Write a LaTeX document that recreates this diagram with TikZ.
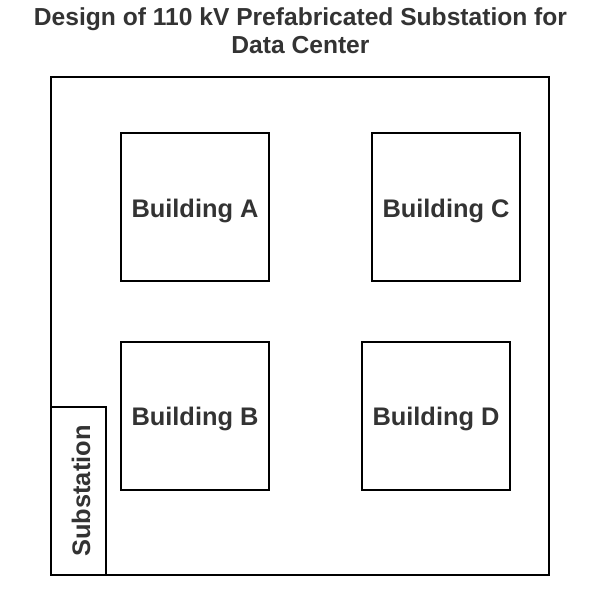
\documentclass[tikz,border=0pt]{standalone}
\usepackage{fontspec}
\setmainfont{Liberation Sans}
\definecolor{txt}{HTML}{333333}
\begin{document}
\begin{tikzpicture}[x=1pt,y=-1pt,
  box/.style={draw=black,line width=2pt},
  lbl/.style={text=txt,font=\fontsize{25.4}{30}\selectfont\bfseries,inner sep=0pt},
  ttl/.style={text=txt,font=\fontsize{24.6}{28}\selectfont\bfseries,inner sep=0pt,align=center}]
\useasboundingbox[fill=white] (0,0) rectangle (600,600);
\node[ttl] (title) at (300.5,31) {Design of 110 kV Prefabricated Substation for\\Data Center};
\draw[box] (51,77) rectangle (549,575);
\draw[box] (121,133) rectangle (269,281);
\draw[box] (372,133) rectangle (520,281);
\draw[box] (121,342) rectangle (269,490);
\draw[box] (362,342) rectangle (510,490);
\draw[box] (51,407) rectangle (106,575);
\node[lbl] (a) at (195,211) {Building A};
\node[lbl] (c) at (446,211) {Building C};
\node[lbl] (b) at (195,419) {Building B};
\node[lbl] (d) at (436,419) {Building D};
\node[lbl,rotate=90] (s) at (81,491) {Substation};
\end{tikzpicture}
\end{document}
